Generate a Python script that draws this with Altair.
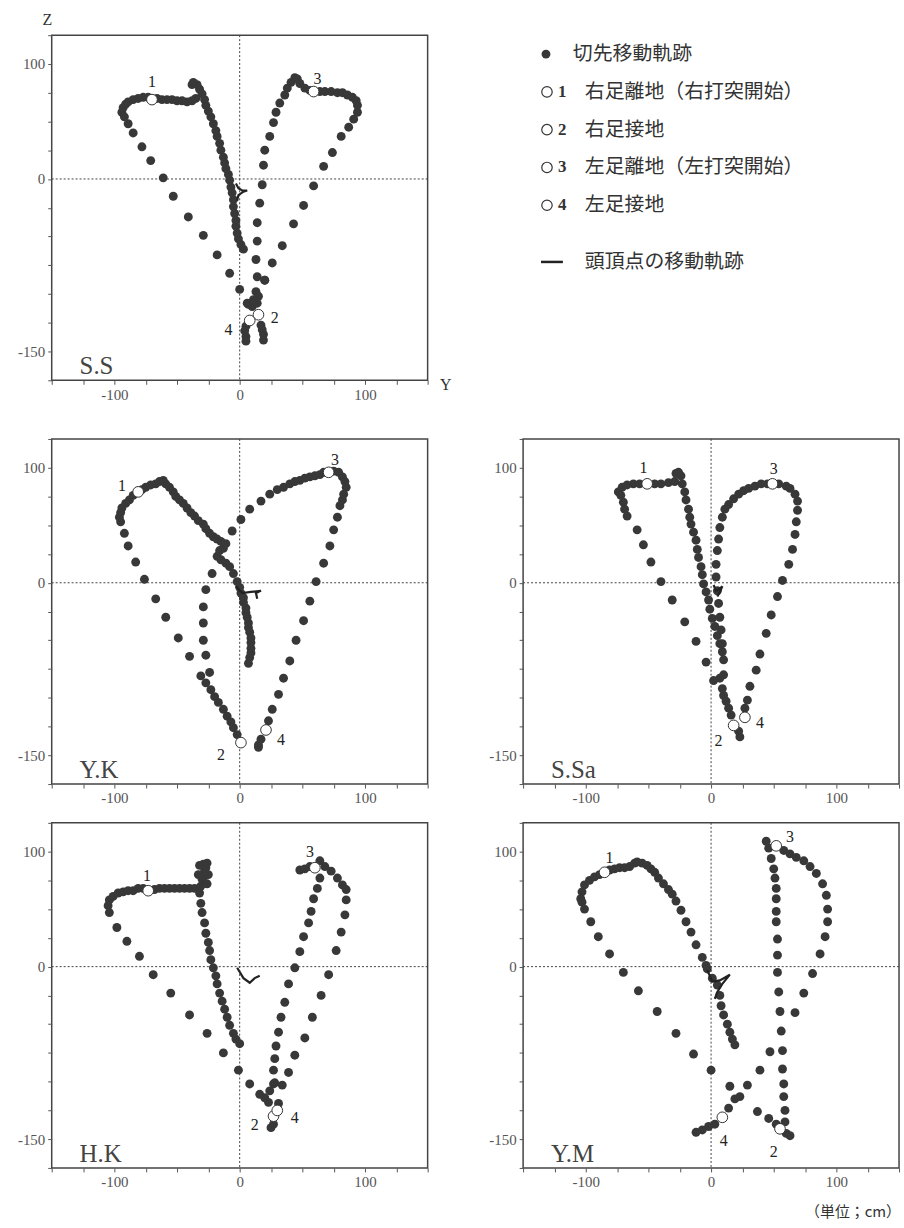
import altair as alt
import pandas as pd

W, H = 378, 347
SERIF = "Liberation Serif"
CJK = "Noto Sans CJK JP"
INK = "#383838"

# ---------------- data (cm) ----------------
EVENT_NUMS = ["1", "2", "3", "4"]

# S.S
SS_TIP_Y = [3, 1, -1, -2, -3, -3, -4, -5, -5, -6, -7, -8, -9, -11, -12, -13, -15, -16, -18, -19, -21, -23, -25, -27, -28, -30,
            -32, -34, -37, -38,
            -35, -38, -42, -46, -50, -54, -58, -62, -66, -73, -77, -81, -85, -89, -91, -93, -94,
            -92, -89, -85, -78, -71, -61, -53, -41, -29, -18, -8, 0, 7,
            5, 4, 5, 5,
            14, 20, 13, 15, 6, 10, 14, 11,
            17, 18, 19, 19,
            13, 14, 14, 16, 18, 19, 20, 24, 27, 29, 32, 36, 38, 41, 44, 46, 48, 52, 56, 64,
            68, 73, 78, 82, 86, 90, 93, 94, 94, 91, 87, 81, 74, 67, 59, 51, 43, 34, 26, 20]
SS_TIP_Z = [-61, -57, -52, -47, -41, -36, -30, -24, -18, -12, -7, -1, 4, 9, 14, 19, 25, 31, 37, 42, 48, 54, 59, 64, 69, 74,
            78, 82, 84, 82,
            70, 68, 67, 68, 68, 69, 69, 69, 70, 71, 71, 70, 69, 67, 65, 62, 58,
            54, 48, 40, 28, 16, 1, -15, -33, -49, -66, -82, -96, -109,
            -128, -132, -137, -141,
            -85, -88, -98, -102, -108, -111, -108, -105,
            -127, -131, -135, -140,
            -70, -54, -38, -21, -5, 12, 25, 37, 49, 58, 66, 73, 79, 84, 88, 87, 83, 79, 77, 76,
            76, 76, 75, 75, 73, 71, 68, 64, 58, 52, 45, 37, 23, 11, -6, -23, -39, -58, -73, -88]
SS_HEAD_Y = [-3, -1, 2, 6, 3, -1, -2]
SS_HEAD_Z = [-4, -8, -10, -10, -11, -14, -19]
SS_EVENT_Y = [-70, 15, 59, 8]
SS_EVENT_Z = [69, -118, 76, -123]
SS_LABEL_Y = [-70, 28, 62, -9]
SS_LABEL_Z = [84, -121, 87, -131]

# Y.K
YK_TIP_Y = [7, 8, 9, 9, 9, 9, 8, 7, 7, 6, 5, 5, 3, 3, 1, 0, -2, -5, -8, -11, -15, -18, -16, -13, -11, -15, -18, -21, -24, -27,
            -29, -33, -36, -39, -42, -45, -48, -51, -53, -56, -59, -61, -64, -67, -71, -75, -78,
            -85, -88, -91, -94, -95, -96, -95,
            -92, -89, -83, -76, -67, -59, -49, -40,
            -31, -27, -23, -20, -17, -13, -10, -7, -5, -2,
            -24, -27, -29, -29, -29, -27, -22, -6, 1, 8, 17, 24, 30, 35, 40, 44, 48, 52, 56, 60, 64, 67,
            75, 79, 82, 84, 85, 83, 82, 80, 78, 75, 72, 67, 61, 56, 51, 45, 40, 35, 31, 26, 23,
            17, 15, 15]
YK_TIP_Z = [-70, -65, -61, -57, -52, -48, -43, -39, -35, -30, -26, -22, -17, -13, -9, -4, 1, 8, 14, 17, 20, 23, 28, 30, 34, 36, 38, 40, 43, 47,
            51, 54, 58, 61, 65, 69, 72, 75, 79, 83, 86, 89, 88, 86, 85, 83, 81,
            76, 72, 69, 65, 61, 57, 53,
            43, 32, 18, 3, -14, -30, -48, -64,
            -81, -87, -93, -99, -104, -110, -116, -121, -126, -132,
            -78, -63, -50, -35, -21, -6, 8, 45, 55, 64, 71, 77, 81, 83, 86, 88, 89, 91, 92, 93, 94, 96,
            97, 96, 92, 88, 83, 77, 72, 67, 57, 46, 32, 17, 1, -16, -33, -50, -68, -83, -97, -110, -120,
            -136, -141, -143]
YK_HEAD_Y = [-3, 2, 9, 17, 13, 14]
YK_HEAD_Z = [-3, -9, -8, -7, -9, -14]
YK_EVENT_Y = [-81, 1, 71, 21]
YK_EVENT_Z = [79, -139, 96, -128]
YK_LABEL_Y = [-94, -15, 76, 33]
YK_LABEL_Z = [84, -150, 107, -137]

# S.Sa
SSA_TIP_Y = [-74, -71, -67, -62, -57, -45, -40, -34, -29, -28, -26, -24,
             -23, -21, -20, -18, -17, -16, -14, -12, -11, -10, -8, -7, -6, -4, -2, -1, 1, 3, 5, 7, 9, 10,
             7, 10, 9, 10, 12, 14, 16, 22, 23,
             54, 60, 63, 67, 69, 69, 68, 67, 65, 62, 57, 53, 48, 44, 39, 36, 31, 29, 27,
             9, 8, 7, 6, 5, 4, 4, 5, 6, 7, 9, 11, 14, 18, 22, 26, 30, 35, 40, 45,
             -72, -70, -69, -67, -59, -54, -48, -40, -31, -21, -12, -4, 2]
SSA_TIP_Z = [79, 83, 85, 86, 86, 86, 86, 87, 88, 95, 96, 93,
             86, 79, 72, 64, 57, 51, 44, 37, 29, 22, 14, 7, -1, -8, -15, -23, -31, -38, -46, -53, -60, -67,
             -83, -80, -92, -98, -103, -109, -115, -129, -134,
             86, 84, 82, 77, 71, 63, 53, 42, 29, 16, 2, -12, -28, -44, -62, -76, -90, -102, -109,
             -53, -41, -30, -18, -7, 5, 16, 28, 38, 48, 57, 64, 68, 73, 77, 80, 82, 84, 86, 86,
             76, 70, 64, 58, 46, 33, 18, 1, -15, -34, -51, -69, -85]
SSA_HEAD_Y = [2, 4, 7, 9, 7, 5]
SSA_HEAD_Z = [-2, -7, -5, -3, -8, -12]
SSA_EVENT_Y = [-51, 18, 49, 27]
SSA_EVENT_Z = [86, -124, 86, -117]
SSA_LABEL_Y = [-54, 6, 50, 39]
SSA_LABEL_Z = [100, -138, 99, -122]

# H.K
HK_TIP_Y = [-105, -104, -101, -97, -93, -89, -85, -81, -77, -68, -64, -60, -56, -52, -48, -44, -40, -36,
            -29, -28, -28, -29, -31, -27, -30, -26, -32, -25, -33, -26,
            -32, -31, -30, -28, -27, -25, -24, -23, -21, -19, -18, -16, -14, -12, -10, -8, -5, -3, 0,
            -104, -98, -90, -80, -69, -55, -40, -26, -13, -1, 8, 16, 23,
            20, 24, 27, 25, 27, 31,
            28, 27, 28, 29, 31, 33, 36, 39, 44, 48, 51, 55, 57, 59, 62, 64,
            48, 52, 56, 64, 68, 73, 78, 82, 85, 85, 84, 81, 77, 71, 65, 58, 52, 44, 39, 34]
HK_TIP_Z = [53, 58, 61, 64, 65, 66, 66, 68, 68, 67, 68, 68, 68, 68, 68, 68, 68, 68,
            89, 84, 79, 73, 70, 86, 76, 90, 88, 80, 80, 72,
            64, 55, 47, 38, 29, 21, 14, 6, -1, -8, -15, -23, -30, -37, -44, -51, -58, -63, -67,
            47, 34, 22, 9, -7, -23, -42, -58, -75, -90, -102, -111, -118,
            -114, -108, -102, -140, -137, -119,
            -101, -90, -80, -69, -57, -44, -31, -15, -1, 13, 26, 38, 48, 59, 68, 77,
            84, 85, 87, 92, 87, 83, 77, 71, 67, 58, 45, 30, 14, -7, -25, -44, -62, -77, -92, -103]
HK_HEAD_Y = [-2, 3, 8, 12, 16]
HK_HEAD_Z = [-1, -10, -14, -10, -8]
HK_EVENT_Y = [-73, 27, 60, 30]
HK_EVENT_Z = [66, -130, 86, -125]
HK_LABEL_Y = [-74, 12, 56, 44]
HK_LABEL_Z = [79, -138, 100, -132]

# Y.M
YM_TIP_Y = [-104, -103, -101, -97, -93, -89, -81, -77, -73, -69, -65, -61, -59, -55, -51, -48, -45, -42, -38, -34,
            -31, -28, -24, -20, -16, -12, -7, -4, -3, 1, 5, 7, 8, 10, 13, 15, 17, 19,
            -103, -101, -96, -90, -81, -70, -58, -43, -28, -14, 0, 15, 23, 37, 46, 52, 60, 63,
            59, 59, 58, 58, 57, 57, 56, 55, 54, 53, 53, 53, 52, 52, 52, 52, 51, 50, 48, 46, 44,
            58, 63, 68, 74, 79, 84, 89, 92, 93, 93, 91, 87, 81, 74, 67, 47, 39, 29, 19, 14, 3, -2, -7, -12]
YM_TIP_Z = [59, 65, 71, 75, 78, 80, 84, 85, 86, 86, 87, 90, 91, 90, 88, 85, 82, 77, 72, 67,
            63, 57, 49, 39, 30, 19, 8, 1, -2, -10, -16, -25, -34, -42, -50, -57, -63, -68,
            56, 50, 39, 26, 11, -5, -21, -39, -58, -76, -90, -104, -113, -126, -132, -137, -145, -147,
            -135, -125, -113, -102, -89, -73, -56, -39, -22, -5, 10, 24, 39, 48, 59, 68, 77, 85, 94, 103, 109,
            101, 98, 95, 92, 87, 81, 72, 62, 50, 39, 26, 11, -6, -23, -40, -74, -90, -103, -115, -123, -137, -139, -142, -144]
YM_HEAD_Y = [-3, 1, 7, 15, 9, 5, 3]
YM_HEAD_Z = [-3, -13, -12, -7, -15, -22, -28]
YM_EVENT_Y = [-85, 55, 52, 9]
YM_EVENT_Z = [82, -141, 105, -131]
YM_LABEL_Y = [-81, 50, 63, 10]
YM_LABEL_Z = [94, -161, 113, -152]

LEGEND_LABELS = ["切先移動軌跡", "右足離地（右打突開始）", "右足接地",
                 "左足離地（左打突開始）", "左足接地", "頭頂点の移動軌跡"]
LEGEND_NUMS = ["", "1", "2", "3", "4", ""]
LEGEND_ROW = [0.5, 1.5, 2.5, 3.5, 4.5, 6.0]

X_TICKS = list(range(-150, 151, 25))
Y_TICKS = list(range(-175, 126, 25))

# ---------------- chart ----------------
xs = alt.Scale(domain=[-150, 150], nice=False, zero=False)
ys = alt.Scale(domain=[-175, 125], nice=False, zero=False)


def make_axes(with_titles):
    common = dict(grid=False, tickSize=4, tickColor="#555", domain=False,
                  labelFont=SERIF, labelFontSize=15, labelColor="#555",
                  labelPadding=3, labelOverlap=False)
    xexpr = "indexof([-100, 0, 100], datum.value) >= 0 ? toString(datum.value) : ''"
    yexpr = "indexof([100, 0, -150], datum.value) >= 0 ? toString(datum.value) : ''"
    if with_titles:
        xa = alt.Axis(values=X_TICKS, labelExpr=xexpr,
                      title="Y", titleFont=SERIF, titleFontSize=16, titleFontWeight="normal",
                      titleColor="#333", titleX=W + 12, titleY=4, titleAlign="left",
                      titleBaseline="middle", **common)
        ya = alt.Axis(values=Y_TICKS, labelExpr=yexpr,
                      title="Z", titleFont=SERIF, titleFontSize=16, titleFontWeight="normal",
                      titleColor="#333", titleAngle=0, titleX=-5, titleY=-8,
                      titleAlign="center", titleBaseline="bottom", **common)
    else:
        xa = alt.Axis(values=X_TICKS, labelExpr=xexpr, title=None, **common)
        ya = alt.Axis(values=Y_TICKS, labelExpr=yexpr, title=None, **common)
    return xa, ya


def panel(name, tip_y, tip_z, head_y, head_z, ev_y, ev_z, lab_y, lab_z, with_titles=False, unit_note=False):
    tip = pd.DataFrame({"Y": tip_y, "Z": tip_z})
    head = pd.DataFrame({"Y": head_y, "Z": head_z, "i": list(range(len(head_y)))})
    ev = pd.DataFrame({"Y": ev_y, "Z": ev_z})
    lab = pd.DataFrame({"Y": lab_y, "Z": lab_z, "n": EVENT_NUMS})
    origin = pd.DataFrame({"Y": [0], "Z": [0]})
    nm = pd.DataFrame({"name": [name]})
    xa, ya = make_axes(with_titles)
    X = alt.X("Y:Q", scale=xs, axis=xa)
    Yc = alt.Y("Z:Q", scale=ys, axis=ya)

    vline = alt.Chart(origin).mark_rule(color="#444", strokeDash=[2, 2], strokeWidth=1).encode(x=X)
    hline = alt.Chart(origin).mark_rule(color="#444", strokeDash=[2, 2], strokeWidth=1).encode(y=Yc)
    dots = alt.Chart(tip).mark_circle(size=80, color=INK, opacity=1).encode(x=X, y=Yc)
    headl = alt.Chart(head).mark_line(color="#222", strokeWidth=2.2).encode(x=X, y=Yc, order="i:Q")
    evts = alt.Chart(ev).mark_point(shape="circle", filled=True, fill="white", stroke="#333",
                                    strokeWidth=1, size=115, opacity=1).encode(x=X, y=Yc)
    labs = alt.Chart(lab).mark_text(font=SERIF, fontSize=16, color="#222", baseline="middle").encode(
        x=X, y=Yc, text="n:N")
    title = alt.Chart(nm).mark_text(align="left", baseline="alphabetic", font=SERIF, fontSize=25,
                                    color="#444").encode(
        x=alt.value(28), y=alt.value(H - 6), text="name:N")
    layers = [vline, hline, dots, headl, evts, labs, title]
    if unit_note:
        note = alt.Chart(pd.DataFrame({"t": ["（単位；cm）"]})).mark_text(
            align="right", baseline="middle", font=CJK, fontSize=15, color="#333").encode(
            x=alt.value(W + 2), y=alt.value(H + 44), text="t:N")
        layers.append(note)
    return alt.layer(*layers).properties(width=W, height=H)


# legend
leg = pd.DataFrame({"row": LEGEND_ROW, "label": LEGEND_LABELS, "num": LEGEND_NUMS})
ly = alt.Scale(domain=[0, H / 38.0], range=[0, H])
leg_dot = alt.Chart(leg).transform_filter("datum.row < 1").mark_circle(size=80, color=INK, opacity=1).encode(
    x=alt.value(83), y=alt.Y("row:Q", scale=ly, axis=None))
leg_circ = alt.Chart(leg).transform_filter("datum.num != ''").mark_point(
    shape="circle", filled=True, fill="white", stroke="#333", strokeWidth=1.2, size=110, opacity=1).encode(
    x=alt.value(84), y=alt.Y("row:Q", scale=ly, axis=None))
leg_num = alt.Chart(leg).transform_filter("datum.num != ''").mark_text(
    font=SERIF, fontSize=17, fontWeight="bold", color="#333", align="left", baseline="middle").encode(
    x=alt.value(95), y=alt.Y("row:Q", scale=ly, axis=None), text="num:N")
leg_line = alt.Chart(leg).transform_filter("datum.row > 5").mark_rule(color="#222", strokeWidth=2.5).encode(
    x=alt.value(78), x2=alt.value(100), y=alt.Y("row:Q", scale=ly, axis=None))
leg_text0 = alt.Chart(leg).transform_filter("datum.row < 1").mark_text(
    font=CJK, fontSize=20, color="#333", align="left", baseline="middle").encode(
    x=alt.value(110), y=alt.Y("row:Q", scale=ly, axis=None), text="label:N")
leg_text = alt.Chart(leg).transform_filter("datum.row > 1").mark_text(
    font=CJK, fontSize=20, color="#333", align="left", baseline="middle").encode(
    x=alt.value(122), y=alt.Y("row:Q", scale=ly, axis=None), text="label:N")
legend = alt.layer(leg_dot, leg_circ, leg_num, leg_line, leg_text0, leg_text).properties(
    width=350, height=H, view=alt.ViewBackground(stroke="transparent"))

ss = panel("S.S", SS_TIP_Y, SS_TIP_Z, SS_HEAD_Y, SS_HEAD_Z, SS_EVENT_Y, SS_EVENT_Z, SS_LABEL_Y, SS_LABEL_Z,
           with_titles=True)
yk = panel("Y.K", YK_TIP_Y, YK_TIP_Z, YK_HEAD_Y, YK_HEAD_Z, YK_EVENT_Y, YK_EVENT_Z, YK_LABEL_Y, YK_LABEL_Z)
ssa = panel("S.Sa", SSA_TIP_Y, SSA_TIP_Z, SSA_HEAD_Y, SSA_HEAD_Z, SSA_EVENT_Y, SSA_EVENT_Z, SSA_LABEL_Y,
            SSA_LABEL_Z)
hk = panel("H.K", HK_TIP_Y, HK_TIP_Z, HK_HEAD_Y, HK_HEAD_Z, HK_EVENT_Y, HK_EVENT_Z, HK_LABEL_Y, HK_LABEL_Z)
ym = panel("Y.M", YM_TIP_Y, YM_TIP_Z, YM_HEAD_Y, YM_HEAD_Z, YM_EVENT_Y, YM_EVENT_Z, YM_LABEL_Y, YM_LABEL_Z,
           unit_note=True)

row1 = alt.hconcat(ss, legend, spacing=10)
row2 = alt.hconcat(yk, ssa, spacing=58)
row3 = alt.hconcat(hk, ym, spacing=58)
lower = alt.vconcat(row2, row3, spacing=8)

chart = alt.vconcat(row1, lower, spacing=28).properties(
    padding={"left": 16, "top": 7, "right": 2, "bottom": 2},
    background="white",
).configure_view(stroke="#444", strokeWidth=1.5)

chart.save("out.html", embed_options={"renderer": "svg", "actions": False})
